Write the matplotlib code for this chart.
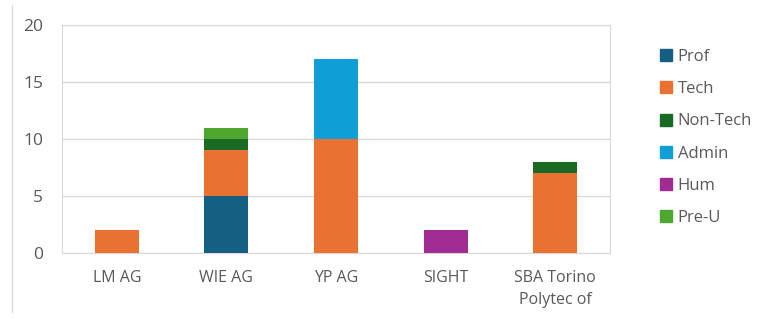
import numpy as np
import matplotlib.pyplot as plt
from matplotlib.lines import Line2D

plt.rcParams['font.family'] = ['Open Sans', 'DejaVu Sans']

categories = ["LM AG", "WIE AG", "YP AG", "SIGHT", "SBA Torino\nPolytec of"]
series = ["Prof", "Tech", "Non-Tech", "Admin", "Hum", "Pre-U"]
prof = [0, 5, 0, 0, 0]
tech = [2, 4, 10, 0, 7]
non_tech = [0, 1, 0, 0, 1]
admin = [0, 0, 7, 0, 0]
hum = [0, 0, 0, 2, 0]
pre_u = [0, 1, 0, 0, 0]
colors = ["#156082", "#E97132", "#196B24", "#0F9ED5", "#A02B93", "#4EA72E"]

txt = "#595959"
W, H = 758, 318
fig = plt.figure(figsize=(W / 100, H / 100), dpi=100)
ax = fig.add_axes([62 / W, 1 - 253 / H, 548 / W, 228 / H])

x = np.arange(len(categories))
bottom = np.zeros(len(categories))
for name, vals, c in zip(series, [prof, tech, non_tech, admin, hum, pre_u], colors):
    ax.bar(x, vals, 0.40, bottom=bottom, color=c, label=name, zorder=3)
    bottom += np.array(vals)

ax.set_xlim(-0.5, len(categories) - 0.5)
ax.set_ylim(0, 20)
ax.set_yticks([0, 5, 10, 15, 20])
ax.set_xticks(x)
ax.set_xticklabels(categories, linespacing=1.55)
ax.yaxis.grid(True, color="#d9d9d9", linewidth=1, zorder=0)
for s in ax.spines.values():
    s.set_color("#d9d9d9")
ax.tick_params(length=0, labelcolor=txt)
ax.tick_params(axis="y", pad=13.5, labelsize=12.5)
ax.tick_params(axis="x", pad=12, labelsize=11.5)

handles = [Line2D([], [], marker="s", linestyle="", markersize=8, color=c) for c in colors]
leg = fig.legend(handles, series, loc="upper left", bbox_to_anchor=(658 / W, 1 - 49 / H),
                 frameon=False, labelspacing=0.97, handlelength=1.0, handletextpad=0.19,
                 fontsize=12, labelcolor=txt, borderaxespad=0, borderpad=0)

fig.add_artist(Line2D([12 / W, 12 / W], [6 / H, 1 - 5 / H], color="#d9d9d9", linewidth=1))

fig.savefig("out.png", dpi=100)
